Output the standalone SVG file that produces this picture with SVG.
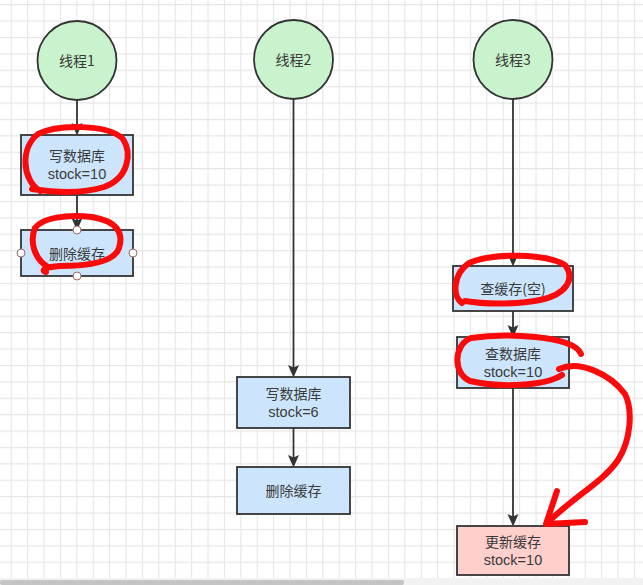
<svg xmlns="http://www.w3.org/2000/svg" width="643" height="585" viewBox="0 0 643 585">
  <defs>
    <pattern id="grid" patternUnits="userSpaceOnUse" x="10.7" y="4.1" width="16.4" height="16.4">
      <path d="M0 0.5 H16.4 M0.5 0 V16.4" fill="none" stroke="#e5e5e5" stroke-width="1.2"/>
    </pattern>
    <marker id="arrow" markerUnits="userSpaceOnUse" markerWidth="14" markerHeight="12" refX="4" refY="5.5" orient="auto">
      <path d="M0,0 L12.5,5.5 L0,11 L2.5,5.5 Z" fill="#333"/>
    </marker>
    <style>
      .thread { fill: #c8f3cc; stroke: #333; stroke-width: 1.8; }
      .step { fill: #cce5fc; stroke: #333; stroke-width: 1.8; }
      .update { fill: #ffcfcc; stroke: #333; stroke-width: 1.8; }
      .label { font-family: "Noto Sans CJK SC", "Liberation Sans", sans-serif; font-size: 14px; fill: #3a3a3a; text-anchor: middle; }
      .latin { font-family: "Liberation Sans", "Noto Sans CJK SC", sans-serif; font-size: 14.5px; }
      .edge { fill: none; stroke: #333; stroke-width: 1.8; marker-end: url(#arrow); }
      .handle { fill: #fff; stroke: #a06a6a; stroke-width: 1; }
      .ink { fill: none; stroke: #fa0a0a; stroke-width: 6; stroke-linecap: round; stroke-linejoin: round; }
    </style>
  </defs>

  <!-- canvas -->
  <rect width="643" height="585" fill="#fff"/>
  <rect width="643" height="578" fill="url(#grid)"/>

  <!-- connectors -->
  <g id="connectors">
    <line class="edge" x1="77" y1="100" x2="77" y2="127"/>
    <line class="edge" x1="77" y1="195" x2="77" y2="222"/>
    <line class="edge" x1="293.5" y1="99" x2="293.5" y2="369"/>
    <line class="edge" x1="293.5" y1="428" x2="293.5" y2="459"/>
    <line class="edge" x1="513" y1="99" x2="513" y2="258"/>
    <line class="edge" x1="513" y1="311" x2="513" y2="329"/>
    <line class="edge" x1="513" y1="388" x2="513" y2="518"/>
  </g>

  <!-- thread 1 -->
  <g id="thread1">
    <circle class="thread" cx="77" cy="60.5" r="39.5"/>
    <text class="label" x="77" y="66">线程1</text>
  </g>
  <g id="t1-write-db">
    <rect class="step" x="21" y="135" width="112" height="60"/>
    <text class="label" x="77" y="161">写数据库</text>
    <text class="label latin" x="77" y="179">stock=10</text>
  </g>
  <g id="t1-delete-cache">
    <rect class="step" x="21" y="230" width="112" height="46"/>
    <text class="label" x="77" y="259">删除缓存</text>
    <circle class="handle" cx="77" cy="230" r="4"/>
    <circle class="handle" cx="21" cy="253" r="4"/>
    <circle class="handle" cx="133" cy="253" r="4"/>
    <circle class="handle" cx="77" cy="276" r="4"/>
  </g>

  <!-- thread 2 -->
  <g id="thread2">
    <circle class="thread" cx="293.5" cy="59.5" r="39.5"/>
    <text class="label" x="293.5" y="65">线程2</text>
  </g>
  <g id="t2-write-db">
    <rect class="step" x="237" y="377" width="113" height="51"/>
    <text class="label" x="293.5" y="399">写数据库</text>
    <text class="label latin" x="293.5" y="417">stock=6</text>
  </g>
  <g id="t2-delete-cache">
    <rect class="step" x="237" y="467" width="113" height="47"/>
    <text class="label" x="293.5" y="496">删除缓存</text>
  </g>

  <!-- thread 3 -->
  <g id="thread3">
    <circle class="thread" cx="513" cy="59.5" r="39.5"/>
    <text class="label" x="513" y="65">线程3</text>
  </g>
  <g id="t3-read-cache">
    <rect class="step" x="453" y="266" width="120" height="45"/>
    <text class="label" x="513" y="293.5">查缓存(空)</text>
  </g>
  <g id="t3-read-db">
    <rect class="step" x="457" y="337" width="112" height="51"/>
    <text class="label" x="513" y="358.5">查数据库</text>
    <text class="label latin" x="513" y="376.5">stock=10</text>
  </g>
  <g id="t3-update-cache">
    <rect class="update" x="457" y="526" width="112" height="49"/>
    <text class="label" x="513" y="546.5">更新缓存</text>
    <text class="label latin" x="513" y="564.5">stock=10</text>
  </g>

  <!-- hand-drawn red annotations -->
  <g id="ink">
    <path class="ink" d="M40 191 C22 180 20 148 38 134 C58 124 108 124 123 139 C132 153 129 178 104 187 C82 194 52 192 32 189"/>
    <path class="ink" d="M46 272 C40 270 46 267 60 266 C86 266 114 263 119 248 C124 232 116 221 92 217 C66 214 42 218 35 228 C30 240 33 258 48 267"/>
    <path class="ink" d="M462 303 C452 296 453 274 469 263 C492 253 545 253 565 265 C575 278 568 294 540 300 C515 305 482 304 465 301"/>
    <path class="ink" d="M581 354 C574 335 503 333 471 338 C453 345 453 374 470 381 C500 388 545 386 562 375"/>
    <path class="ink" d="M559 369 C580 360 610 374 625 394 C633 410 631 440 618 460 C604 481 575 496 547 523"/>
    <path class="ink" d="M557 491 L546 524 L585 522"/>
  </g>

  <!-- horizontal scrollbar -->
  <rect x="0" y="578" width="643" height="7" fill="#f2f2f2"/>
  <rect x="0" y="580" width="404" height="5" rx="2" fill="#c4c4c4"/>
</svg>
